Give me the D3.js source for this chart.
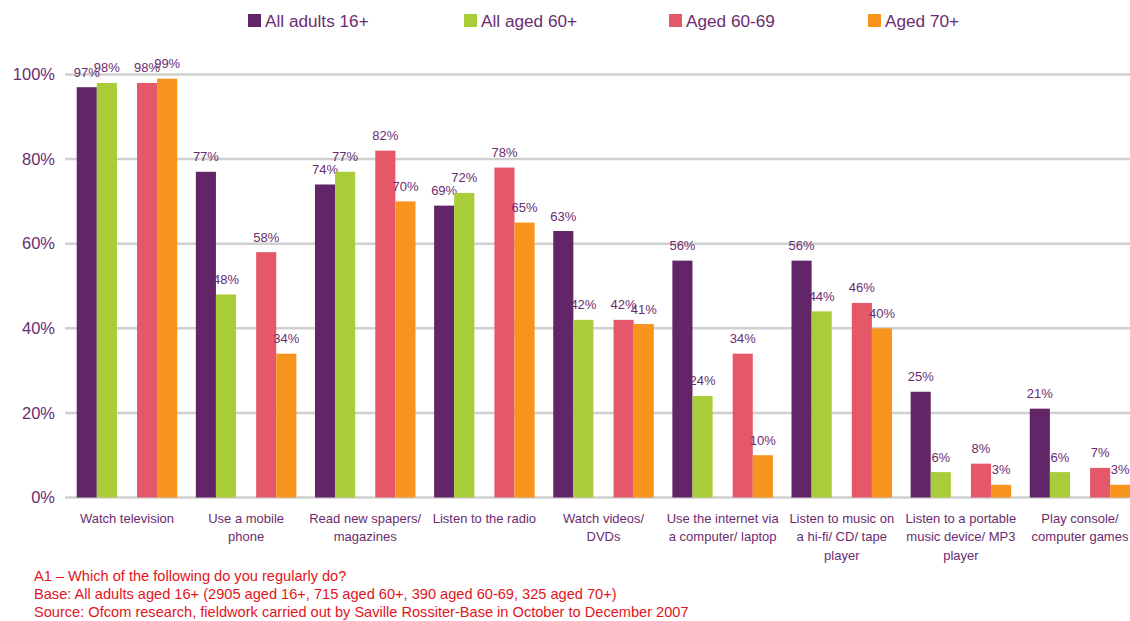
<!DOCTYPE html>
<html>
<head>
<meta charset="utf-8">
<script src="https://cdn.jsdelivr.net/npm/d3@7"></script>
<style>
	body { margin: 0; background: #fff; }
	text { font-family: "Liberation Sans", Arial, sans-serif; }
</style>
</head>
<body>
<svg width="1130" height="621"></svg>
<script>
// categories, each split into the lines shown under the axis
var categories = [
	["Watch television"],
	["Use a mobile", "phone"],
	["Read new spapers/", "magazines"],
	["Listen to the radio"],
	["Watch videos/", "DVDs"],
	["Use the internet via", "a computer/ laptop"],
	["Listen to music on", "a hi-fi/ CD/ tape", "player"],
	["Listen to a portable", "music device/ MP3", "player"],
	["Play console/", "computer games"]
];

var seriesNames = ["All adults 16+", "All aged 60+", "Aged 60-69", "Aged 70+"];
var seriesColors = ["#622567", "#a8cd38", "#e45869", "#f7941e"];
// slot of each series inside a group (slot 2 is left empty)
var seriesSlots = [0, 1, 3, 4];

var allAdults = [97, 77, 74, 69, 63, 56, 56, 25, 21];
var allAged60 = [98, 48, 77, 72, 42, 24, 44, 6, 6];
var aged6069 = [98, 58, 82, 78, 42, 34, 46, 8, 7];
var aged70 = [99, 34, 70, 65, 41, 10, 40, 3, 3];

var yTicks = [0, 20, 40, 60, 80, 100];

var notes = [
	"A1 \u2013 Which of the following do you regularly do?",
	"Base: All adults aged 16+ (2905 aged 16+, 715 aged 60+, 390 aged 60-69, 325 aged 70+)",
	"Source: Ofcom research, fieldwork carried out by Saville Rossiter-Base in October to December 2007"
];

var seriesValues = [allAdults, allAged60, aged6069, aged70];

var svg = d3.select("svg");
var textColor = "#6b2c6f";

var x0 = d3.scaleBand()
	.domain(d3.range(categories.length))
	.range([67.4, 1139.6])
	.padding(0);

var x1 = d3.scaleBand()
	.domain(d3.range(5))
	.range([0, x0.bandwidth()])
	.paddingInner(0)
	.paddingOuter(0.463);

var y = d3.scaleLinear()
	.domain([0, 100])
	.range([497.5, 74.5]);

//gridlines
svg.append("g")
	.selectAll("line")
	.data(yTicks)
	.enter().append("line")
		.attr("x1", 65)
		.attr("x2", 1140)
		.attr("y1", function(d) { return y(d); })
		.attr("y2", function(d) { return y(d); })
		.attr("stroke", "#d0d0d0")
		.attr("stroke-width", 2.5);

//y axis labels
var yAxis = svg.append("g")
	.attr("transform", "translate(55,0)")
	.call(d3.axisLeft(y).tickValues(yTicks).tickSize(0).tickPadding(0)
		.tickFormat(function(d) { return d + "%"; }));
yAxis.select(".domain").remove();
yAxis.selectAll("text")
	.attr("fill", textColor)
	.style("font-size", "16.5px")
	.style("font-family", "Liberation Sans, Arial, sans-serif");

//bars + labels
seriesValues.forEach(function(vals, s) {
	var g = svg.append("g");
	g.selectAll("rect")
		.data(vals)
		.enter().append("rect")
			.attr("x", function(d, i) { return x0(i) + x1(seriesSlots[s]); })
			.attr("y", function(d) { return y(d); })
			.attr("width", x1.bandwidth())
			.attr("height", function(d) { return y(0) - y(d); })
			.attr("fill", seriesColors[s]);
	g.selectAll("text")
		.data(vals)
		.enter().append("text")
			.attr("x", function(d, i) { return x0(i) + x1(seriesSlots[s]) + x1.bandwidth() / 2; })
			.attr("y", function(d) { return y(d) - 10.5; })
			.attr("text-anchor", "middle")
			.attr("fill", textColor)
			.style("font-size", "13px")
			.text(function(d) { return d + "%"; });
});

//category labels
var cat = svg.append("g")
	.selectAll("text")
	.data(categories)
	.enter().append("text")
		.attr("x", function(d, i) { return x0(i) + x0.bandwidth() / 2; })
		.attr("y", 522.5)
		.attr("text-anchor", "middle")
		.attr("fill", textColor)
		.style("font-size", "13px");
cat.selectAll("tspan")
	.data(function(d) { return d; })
	.enter().append("tspan")
		.attr("x", function() { return d3.select(this.parentNode).attr("x"); })
		.attr("dy", function(d, i) { return i ? 18.5 : 0; })
		.text(function(d) { return d; });

//legend
var legendX = [248, 464, 669, 868];
var legend = svg.append("g")
	.selectAll("g")
	.data(seriesNames)
	.enter().append("g")
		.attr("transform", function(d, i) { return "translate(" + legendX[i] + ",0)"; });
legend.append("rect")
	.attr("x", 0)
	.attr("y", 14)
	.attr("width", 13)
	.attr("height", 13)
	.attr("fill", function(d, i) { return seriesColors[i]; });
legend.append("text")
	.attr("x", 17)
	.attr("y", 27)
	.attr("fill", textColor)
	.style("font-size", "17.2px")
	.text(function(d) { return d; });

//notes
svg.append("g")
	.selectAll("text")
	.data(notes)
	.enter().append("text")
		.attr("x", 34)
		.attr("y", function(d, i) { return 581 + i * 18; })
		.attr("fill", "#e3141b")
		.style("font-size", "14.6px")
		.text(function(d) { return d; });
</script>
</body>
</html>
